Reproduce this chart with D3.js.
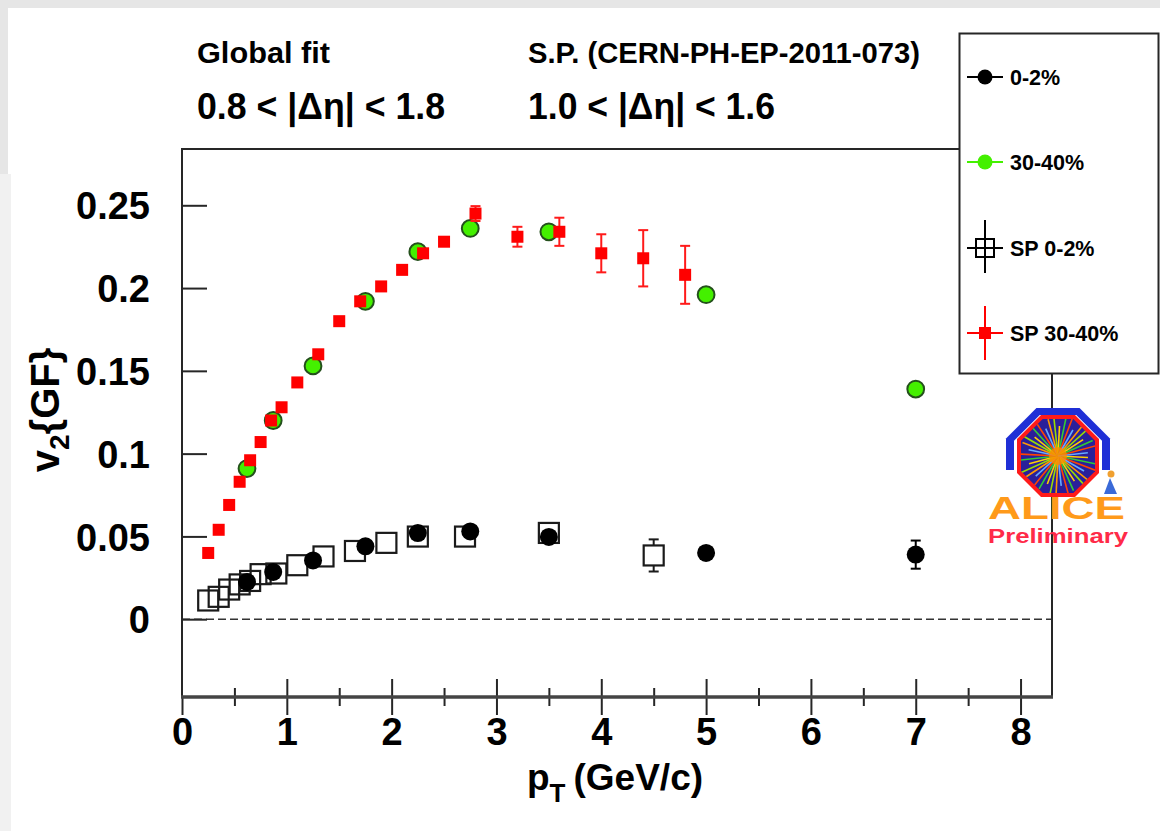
<!DOCTYPE html>
<html><head><meta charset="utf-8">
<script src="https://cdn.jsdelivr.net/npm/d3@7"></script>
<style>
html,body{margin:0;padding:0;background:#fff;}
svg{display:block;}
text{font-family:"Liberation Sans",Arial,Helvetica,sans-serif;font-weight:bold;fill:#000;}
</style>
</head><body>
<svg id="c" width="1160" height="831"></svg>
<script>
// ---------------- DATA ----------------
const xTicks = [0, 1, 2, 3, 4, 5, 6, 7, 8];
const xMinorTicks = [0.5, 1.5, 2.5, 3.5, 4.5, 5.5, 6.5, 7.5];
const yTicks = [0, 0.05, 0.1, 0.15, 0.2, 0.25];
const yTickLabels = ["0", "0.05", "0.1", "0.15", "0.2", "0.25"];

// Global fit 0-2%
const gf0_2_pt  = [0.62, 0.87, 1.25, 1.75, 2.25, 2.75, 3.5, 5.0, 7.0];
const gf0_2_v2  = [0.0225, 0.0285, 0.0355, 0.044, 0.052, 0.053, 0.0497, 0.040, 0.039];
const gf0_2_err = [0.001, 0.001, 0.001, 0.001, 0.002, 0.002, 0.002, 0.004, 0.0085];

// Global fit 30-40%
const gf30_40_pt  = [0.62, 0.87, 1.25, 1.75, 2.25, 2.75, 3.5, 5.0, 7.0];
const gf30_40_v2  = [0.091, 0.120, 0.153, 0.192, 0.222, 0.236, 0.234, 0.196, 0.139];
const gf30_40_err = [0.001, 0.001, 0.001, 0.002, 0.002, 0.002, 0.003, 0.004, 0.004];

// SP 0-2%
const sp0_2_pt  = [0.25, 0.35, 0.45, 0.55, 0.65, 0.75, 0.9, 1.1, 1.35, 1.65, 1.95, 2.25, 2.7, 3.5, 4.5];
const sp0_2_v2  = [0.0113, 0.0135, 0.0179, 0.021, 0.0231, 0.0272, 0.0276, 0.0326, 0.0379, 0.0412, 0.0461, 0.0499, 0.0499, 0.0521, 0.0385];
const sp0_2_err = [0.001, 0.001, 0.001, 0.001, 0.001, 0.001, 0.001, 0.001, 0.001, 0.001, 0.002, 0.002, 0.002, 0.003, 0.0097];

// SP 30-40%
const sp30_40_pt  = [0.25, 0.35, 0.45, 0.55, 0.65, 0.75, 0.85, 0.95, 1.1, 1.3, 1.5, 1.7, 1.9, 2.1, 2.3, 2.5, 2.8, 3.2, 3.6, 4.0, 4.4, 4.8];
const sp30_40_v2  = [0.040, 0.054, 0.069, 0.083, 0.096, 0.107, 0.120, 0.128, 0.143, 0.160, 0.180, 0.192, 0.201, 0.211, 0.221, 0.228, 0.245, 0.231, 0.234, 0.221, 0.218, 0.208];
const sp30_40_err = [0.001, 0.001, 0.001, 0.001, 0.001, 0.001, 0.001, 0.001, 0.001, 0.001, 0.001, 0.003, 0.002, 0.002, 0.003, 0.003, 0.0045, 0.006, 0.0085, 0.0115, 0.017, 0.0175];

const legendLabels = ["0-2%", "30-40%", "SP 0-2%", "SP 30-40%"];
// ---------------------------------------

const W = 1160, H = 831;
const svg = d3.select("#c");
const zip = (a, b, c) => a.map((v, i) => ({x: v, y: b[i], e: c ? c[i] : 0}));

// background
svg.append("rect").attr("width", W).attr("height", H).attr("fill", "#fff");
svg.append("rect").attr("x", 0).attr("y", 0).attr("width", W).attr("height", 8).attr("fill", "#e6e6e6");
svg.append("rect").attr("x", 0).attr("y", 0).attr("width", 8).attr("height", 174).attr("fill", "#e6e6e6");
svg.append("rect").attr("x", 0).attr("y", 174).attr("width", 11).attr("height", H - 174).attr("fill", "#f1f1f1");

const x = d3.scaleLinear().domain([0, 8.3]).range([182, 1052]);
const y = d3.scaleLinear().domain([-0.047, 0.284]).range([697, 149]);

const frameCol = "#262626";

// dashed zero line
svg.append("line").attr("x1", x(0)).attr("x2", x(8.3)).attr("y1", y(0)).attr("y2", y(0))
  .attr("stroke", "#333").attr("stroke-width", 1.6).attr("stroke-dasharray", "8,4");

// frame
svg.append("line").attr("x1", 182).attr("x2", 182).attr("y1", 149).attr("y2", 697).attr("stroke", frameCol).attr("stroke-width", 2);
svg.append("line").attr("x1", 181).attr("x2", 960).attr("y1", 149).attr("y2", 149).attr("stroke", frameCol).attr("stroke-width", 2);
svg.append("line").attr("x1", 1052).attr("x2", 1052).attr("y1", 373).attr("y2", 698).attr("stroke", frameCol).attr("stroke-width", 2);

// x axis ticks
function styleAxis(g) {
  g.select(".domain").remove();
  g.selectAll(".tick line").attr("stroke", frameCol).attr("stroke-width", 2);
}
svg.append("g").attr("transform", "translate(0,697)")
  .call(d3.axisBottom(x).tickValues(xTicks).tickSize(18).tickPadding(3).tickFormat(d3.format("d")))
  .call(styleAxis)
  .call(g => g.selectAll("text").attr("font-size", 38).attr("font-family", "Liberation Sans, Arial, sans-serif").attr("font-weight", "bold").attr("fill", "#000"));
svg.append("g").attr("transform", "translate(0,697)")
  .call(d3.axisTop(x).tickValues(xTicks.slice(1)).tickSize(18).tickFormat(""))
  .call(styleAxis);
svg.append("g").attr("transform", "translate(0,697)")
  .call(d3.axisBottom(x).tickValues(xMinorTicks).tickSize(9).tickFormat(""))
  .call(styleAxis);
svg.append("g").attr("transform", "translate(0,697)")
  .call(d3.axisTop(x).tickValues(xMinorTicks).tickSize(9).tickFormat(""))
  .call(styleAxis);
// x axis line (thick)
svg.append("line").attr("x1", 181).attr("x2", 1053).attr("y1", 697).attr("y2", 697)
  .attr("stroke", "#444").attr("stroke-width", 3.5);

// y axis
svg.append("g").attr("transform", "translate(182,0)")
  .call(d3.axisRight(y).tickValues(yTicks).tickSize(25).tickFormat(""))
  .call(styleAxis);
svg.append("g").attr("transform", "translate(182,0)")
  .call(d3.axisLeft(y).tickValues(yTicks).tickSize(0).tickPadding(32).tickFormat((d, i) => yTickLabels[i]))
  .call(g => g.select(".domain").remove())
  .call(g => g.selectAll("text").attr("font-size", 38).attr("font-family", "Liberation Sans, Arial, sans-serif").attr("font-weight", "bold").attr("fill", "#000").attr("dy", "0.36em"));

// axis titles
const xt = svg.append("text").attr("x", 527).attr("y", 790).attr("font-size", 37);
xt.append("tspan").text("p");
xt.append("tspan").attr("font-size", 26).attr("dy", 12).text("T");
xt.append("tspan").attr("dy", -12).attr("dx", 8).text("(GeV/c)");

const yt = svg.append("text").attr("transform", "translate(59,410) rotate(-90)").attr("text-anchor", "middle").attr("font-size", 40);
yt.append("tspan").text("v");
yt.append("tspan").attr("font-size", 28).attr("dy", 10).text("2");
yt.append("tspan").attr("dy", -10).text("{GF}");

// header texts
svg.append("text").attr("x", 197).attr("y", 63).attr("font-size", 29).attr("textLength", 133).attr("lengthAdjust", "spacingAndGlyphs").text("Global fit");
svg.append("text").attr("x", 528).attr("y", 63).attr("font-size", 29).attr("textLength", 392).attr("lengthAdjust", "spacingAndGlyphs").text("S.P. (CERN-PH-EP-2011-073)");
svg.append("text").attr("x", 197).attr("y", 119).attr("font-size", 36).attr("textLength", 248).attr("lengthAdjust", "spacingAndGlyphs").text("0.8 < |\u0394\u03B7| < 1.8");
svg.append("text").attr("x", 528).attr("y", 119).attr("font-size", 36).attr("textLength", 247).attr("lengthAdjust", "spacingAndGlyphs").text("1.0 < |\u0394\u03B7| < 1.6");

// ---------- marker drawing ----------
const plot = svg.append("g");
// error bars drawn only outside the marker (ROOT style)
function errBars(g, data, color, cap, width, half) {
  const vis = data.filter(d => (y(d.y) - y(d.y + d.e)) > half + 1);
  const sel = g.append("g").selectAll("g").data(vis).join("g");
  sel.append("line").attr("x1", d => x(d.x)).attr("x2", d => x(d.x))
    .attr("y1", d => y(d.y + d.e)).attr("y2", d => y(d.y) - half)
    .attr("stroke", color).attr("stroke-width", width);
  sel.append("line").attr("x1", d => x(d.x)).attr("x2", d => x(d.x))
    .attr("y1", d => y(d.y) + half).attr("y2", d => y(d.y - d.e))
    .attr("stroke", color).attr("stroke-width", width);
  [-1, 1].forEach(s => {
    sel.append("line").attr("x1", d => x(d.x) - cap / 2).attr("x2", d => x(d.x) + cap / 2)
      .attr("y1", d => y(d.y + s * d.e)).attr("y2", d => y(d.y + s * d.e))
      .attr("stroke", color).attr("stroke-width", width);
  });
}

const sp02 = zip(sp0_2_pt, sp0_2_v2, sp0_2_err);
const gf02 = zip(gf0_2_pt, gf0_2_v2, gf0_2_err);
const gf3040 = zip(gf30_40_pt, gf30_40_v2, gf30_40_err);
const sp3040 = zip(sp30_40_pt, sp30_40_v2, sp30_40_err);

// SP 0-2% open squares
errBars(plot, sp02, "#1a1a1a", 10, 2, 10);
plot.append("g").selectAll("rect").data(sp02).join("rect")
  .attr("x", d => x(d.x) - 10).attr("y", d => y(d.y) - 10).attr("width", 20).attr("height", 20)
  .attr("fill", "none").attr("stroke", "#1a1a1a").attr("stroke-width", 2.2);

// GF 0-2% black circles
errBars(plot, gf02, "#000", 10, 2, 8);
plot.append("g").selectAll("circle").data(gf02).join("circle")
  .attr("cx", d => x(d.x)).attr("cy", d => y(d.y)).attr("r", 9).attr("fill", "#000");

// GF 30-40% green circles
errBars(plot, gf3040, "#2f5f1f", 10, 2, 8);
plot.append("g").selectAll("circle").data(gf3040).join("circle")
  .attr("cx", d => x(d.x)).attr("cy", d => y(d.y)).attr("r", 8.4)
  .attr("fill", "#44f000").attr("stroke", "#24501c").attr("stroke-width", 2);

// SP 30-40% red squares
errBars(plot, sp3040, "#ff1a1a", 10, 2, 5);
plot.append("g").selectAll("rect").data(sp3040).join("rect")
  .attr("x", d => x(d.x) - 6).attr("y", d => y(d.y) - 6).attr("width", 12).attr("height", 12)
  .attr("fill", "#ff0000");

// ---------- legend ----------
svg.append("rect").attr("x", 959.5).attr("y", 33.5).attr("width", 199).attr("height", 340)
  .attr("fill", "#fff").attr("stroke", frameCol).attr("stroke-width", 2);
const legY = [77, 162, 248, 333];
const lg = svg.append("g");
const mx = 985;
// entry 0
lg.append("line").attr("x1", 967).attr("x2", 1003).attr("y1", legY[0]).attr("y2", legY[0]).attr("stroke", "#000").attr("stroke-width", 2);
lg.append("circle").attr("cx", mx).attr("cy", legY[0]).attr("r", 7.5).attr("fill", "#000");
// entry 1
lg.append("line").attr("x1", 967).attr("x2", 1003).attr("y1", legY[1]).attr("y2", legY[1]).attr("stroke", "#44f000").attr("stroke-width", 2);
lg.append("circle").attr("cx", mx).attr("cy", legY[1]).attr("r", 7.5).attr("fill", "#44f000");
// entry 2
lg.append("line").attr("x1", 967).attr("x2", 1003).attr("y1", legY[2]).attr("y2", legY[2]).attr("stroke", "#000").attr("stroke-width", 2);
lg.append("line").attr("x1", mx).attr("x2", mx).attr("y1", legY[2] - 28).attr("y2", legY[2] + 25).attr("stroke", "#000").attr("stroke-width", 2);
lg.append("rect").attr("x", mx - 9).attr("y", legY[2] - 9).attr("width", 18).attr("height", 18).attr("fill", "none").attr("stroke", "#000").attr("stroke-width", 2);
// entry 3
lg.append("line").attr("x1", 967).attr("x2", 1003).attr("y1", legY[3]).attr("y2", legY[3]).attr("stroke", "#ff0000").attr("stroke-width", 2);
lg.append("line").attr("x1", mx).attr("x2", mx).attr("y1", legY[3] - 27).attr("y2", legY[3] + 27).attr("stroke", "#ff0000").attr("stroke-width", 2);
lg.append("rect").attr("x", mx - 6).attr("y", legY[3] - 6).attr("width", 12).attr("height", 12).attr("fill", "#ff0000");
lg.selectAll("text.leg").data(legendLabels).join("text").attr("class", "leg")
  .attr("x", 1010).attr("y", (d, i) => legY[i] + 8).attr("font-size", 21.5).text(d => d);

// ---------- ALICE logo ----------
const logo = svg.append("g");
const cx = 1058, cy = 456;
function octagon(r, cxx, cyy) {
  const pts = [];
  for (let k = 0; k < 8; k++) {
    const a = (Math.PI / 8) + k * Math.PI / 4;
    const R = r / Math.cos(Math.PI / 8);
    pts.push([cxx + R * Math.cos(a), cyy + R * Math.sin(a)]);
  }
  return "M" + pts.map(p => p.join(",")).join("L") + "Z";
}
const defs = svg.append("defs");
defs.append("clipPath").attr("id", "archclip").append("rect").attr("x", 990).attr("y", 395).attr("width", 140).attr("height", 75);
defs.append("clipPath").attr("id", "inner").append("path").attr("d", octagon(37, cx, cy));
const arch = logo.append("g").attr("clip-path", "url(#archclip)");
arch.append("path").attr("d", octagon(52, cx, cy + 4)).attr("fill", "#1f2fd6");
arch.append("path").attr("d", octagon(44, cx, cy + 3)).attr("fill", "#fff");
logo.append("path").attr("d", octagon(41, cx, cy)).attr("fill", "#ff1a1a");
const inner = logo.append("g").attr("clip-path", "url(#inner)");
inner.append("rect").attr("x", cx - 45).attr("y", cy - 45).attr("width", 90).attr("height", 90).attr("fill", "#2a1f9a");
const rayCols = ["#ffd000", "#33cc33", "#ff4400", "#66aaff", "#ff9900", "#99dd00"];
d3.range(40).forEach(i => {
  const a = i * Math.PI * 2 / 40 + 0.05;
  const len = 30 + (i % 3) * 8;
  inner.append("line").attr("x1", cx).attr("y1", cy)
    .attr("x2", cx + len * Math.cos(a)).attr("y2", cy + len * Math.sin(a))
    .attr("stroke", rayCols[i % rayCols.length]).attr("stroke-width", 1.6);
});
inner.append("circle").attr("cx", cx).attr("cy", cy).attr("r", 9).attr("fill", "#ff8800").attr("opacity", 0.8);
// small figure
logo.append("path").attr("d", "M1110,478 L1104,494 L1117,494 Z").attr("fill", "#3a6ad8");
logo.append("circle").attr("cx", 1111).attr("cy", 474).attr("r", 3.5).attr("fill", "#f0a030");
logo.append("text").attr("x", 988).attr("y", 519).attr("font-size", 31).attr("textLength", 137)
  .attr("lengthAdjust", "spacingAndGlyphs").style("fill", "#ff9a1a").text("ALICE");
logo.append("text").attr("x", 988).attr("y", 543).attr("font-size", 21).attr("textLength", 140)
  .attr("lengthAdjust", "spacingAndGlyphs").style("fill", "#ff2a48").text("Preliminary");
</script>
</body></html>
